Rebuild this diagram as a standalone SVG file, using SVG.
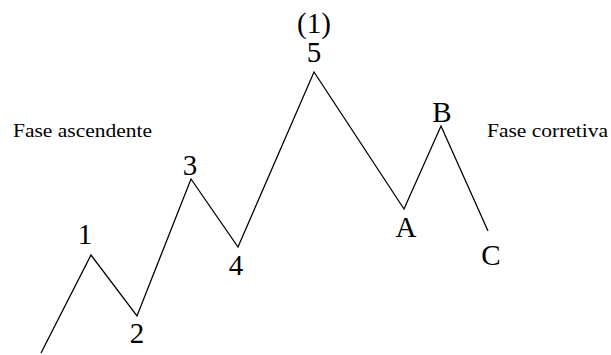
<svg xmlns="http://www.w3.org/2000/svg" width="611" height="355" viewBox="0 0 611 355">
<style>
.lbl{font-family:"Liberation Serif","Times New Roman",serif;font-size:29px;fill:#000;text-anchor:middle}
.cap{font-family:"Liberation Serif","Times New Roman",serif;font-size:18px;fill:#000}
.wave{fill:none;stroke:#000;stroke-width:1.3;stroke-linejoin:miter}
</style>
<rect width="611" height="355" fill="#fff"/>
<g id="connectors">
<polyline class="wave" points="41,353 91,255 137,316 191,179 238,247 314,72 404,209 441,126 488,231"/>
</g>
<g id="caption-up"><text class="cap" x="13" y="137" textLength="139" lengthAdjust="spacingAndGlyphs">Fase ascendente</text></g>
<g id="caption-corr"><text class="cap" x="487" y="137" textLength="121" lengthAdjust="spacingAndGlyphs">Fase corretiva</text></g>
<g id="top-label"><text class="lbl" x="314" y="33">(1)</text></g>
<g id="n1"><text class="lbl" x="85" y="244">1</text></g>
<g id="n2"><text class="lbl" x="137" y="343">2</text></g>
<g id="n3"><text class="lbl" x="190" y="175">3</text></g>
<g id="n4"><text class="lbl" x="236" y="275">4</text></g>
<g id="n5"><text class="lbl" x="314" y="62">5</text></g>
<g id="nA"><text class="lbl" x="406" y="237">A</text></g>
<g id="nB"><text class="lbl" x="442" y="122">B</text></g>
<g id="nC"><text class="lbl" x="491" y="265">C</text></g>
</svg>
